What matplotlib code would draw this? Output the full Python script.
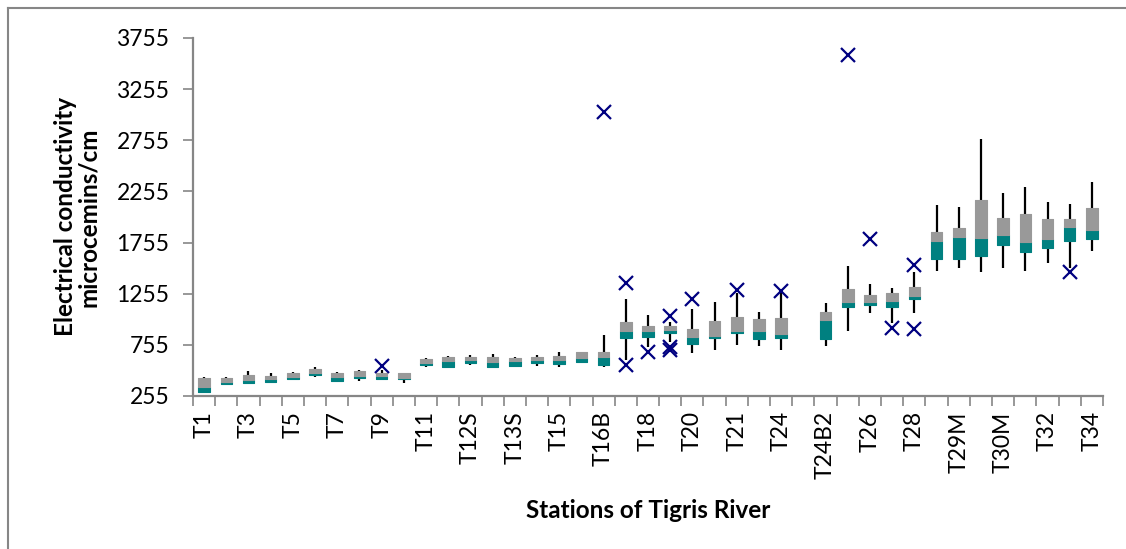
import matplotlib
matplotlib.use('Agg')
import matplotlib.pyplot as plt
from matplotlib.lines import Line2D
import numpy as np

plt.rcParams['font.family'] = ['Lato', 'DejaVu Sans']

# Sampling stations along the Tigris (every other one is labelled on the axis)
stations = ['T1', 'T2', 'T3', 'T4', 'T5', 'T6', 'T7', 'T8', 'T9', 'T10',
            'T11', 'T12', 'T12S', 'T13', 'T13S', 'T14', 'T15', 'T16', 'T16B', 'T17',
            'T18', 'T19', 'T20', 'T20S', 'T21', 'T22', 'T24', 'T24B1', 'T24B2', 'T25',
            'T26', 'T27', 'T28', 'T29', 'T29M', 'T30', 'T30M', 'T31', 'T32', 'T33',
            'T34']

# Box statistics, EC in microsiemens/cm (nan = no samples)
ec_min = [288, 366, 379, 379, 412, 438, 395, 405, 412, 385,
          535, 526, 558, 526, 535, 552, 542, 581, 535, 607,
          730, 786, 679, 705, 754, 747, 705, np.nan, 744, 891,
          1063, 972, 1063, 1481, 1504, 1471, 1504, 1481, 1553, 1504,
          1676]
ec_q1 = [297, 372, 385, 389, 421, 460, 405, 428, 418, 420,
         558, 542, 575, 542, 552, 581, 568, 591, 558, 819,
         829, 868, 764, 819, 868, 809, 825, np.nan, 809, 1122,
         1145, 1129, 1200, 1592, 1592, 1627, 1732, 1660, 1699, 1774,
         1787]
ec_med = [346, 389, 412, 418, 444, 483, 438, 454, 454, 430,
          575, 601, 607, 591, 597, 607, 607, 623, 633, 894,
          894, 900, 829, 842, 894, 891, 861, np.nan, 998, 1171,
          1177, 1187, 1233, 1774, 1807, 1803, 1830, 1764, 1790, 1911,
          1878]
ec_q3 = [428, 434, 460, 451, 483, 516, 477, 500, 483, 477,
         614, 633, 640, 633, 623, 640, 646, 682, 689, 982,
         940, 940, 910, 992, 1031, 1008, 1021, np.nan, 1080, 1298,
         1243, 1266, 1318, 1862, 1895, 2172, 1993, 2032, 1983, 1989,
         2097]
ec_max = [438, 441, 503, 477, 493, 535, 490, 509, 509, 483,
          630, 646, 656, 666, 640, 656, 689, 690, 852, 1200,
          1047, 982, 1103, 1178, 1259, 1080, 1275, np.nan, 1161, 1526,
          1347, 1308, 1464, 2123, 2100, 2768, 2237, 2296, 2149, 2133,
          2345]

# Outliers: station index and value
out_idx = [8, 18, 19, 19, 20, 21, 21, 21, 22, 24, 26, 29, 30, 31, 32, 32, 39]
out_val = [545, 3030, 1360, 555, 690, 1037, 737, 705, 1200, 1292, 1285,
           3590, 1787, 917, 1536, 910, 1471]

x = np.arange(len(stations))
q1 = np.array(ec_q1, dtype=float)
med = np.array(ec_med, dtype=float)
q3 = np.array(ec_q3, dtype=float)

fig = plt.figure(figsize=(11.26, 5.49), dpi=100)
ax = fig.add_axes([193 / 1126, 153 / 549, 910 / 1126, 358 / 549])

# whiskers behind the boxes
ax.vlines(x, ec_min, ec_max, color='black', linewidth=1.6, zorder=1)

# lower box (Q1 -> median) and upper box (median -> Q3)
w = 0.52
ax.bar(x, med - q1, bottom=q1, width=w, color='#008080', edgecolor='#008080',
       linewidth=0.8, joinstyle='round', zorder=2)
ax.bar(x, q3 - med, bottom=med, width=w, color='#999999', edgecolor='#999999',
       linewidth=0.8, joinstyle='round', zorder=2)

ax.plot(out_idx, out_val, linestyle='none', marker='x', color='#000080',
        markersize=10, markeredgewidth=1.6, zorder=3)

ax.set_xlim(-0.5, len(stations) - 0.5)
ax.set_ylim(255, 3755)
ax.set_yticks(np.arange(255, 3756, 500))

# category labels at centres, tick marks at the boundaries
ax.set_xticks(x[::2])
ax.set_xticklabels(stations[::2], rotation=90)
ax.set_xticks(np.arange(-0.5, len(stations)), minor=True)
ax.tick_params(axis='x', which='major', length=0, pad=11, labelsize=16.5)
ax.tick_params(axis='x', which='minor', length=7, width=1.2, color='#868686')
ax.tick_params(axis='y', length=7, width=1.2, color='#868686', labelsize=16.5, pad=10)

for side in ['top', 'right']:
    ax.spines[side].set_visible(False)
for side in ['left', 'bottom']:
    ax.spines[side].set_color('#868686')
    ax.spines[side].set_linewidth(1.6)

ax.set_xlabel('Stations of Tigris River', fontsize=17.5, fontweight='bold', labelpad=14)
ax.set_ylabel('Electrical conductivity\nmicrocemins/cm', fontsize=17.5,
              fontweight='bold', labelpad=12, linespacing=1.0)

# chart area frame
fig.add_artist(Line2D([8 / 1126, 1], [1 - 8 / 549, 1 - 8 / 549],
                      transform=fig.transFigure, color='#868686', linewidth=1.5))
fig.add_artist(Line2D([8 / 1126, 8 / 1126], [0, 1 - 8 / 549],
                      transform=fig.transFigure, color='#868686', linewidth=1.5))

plt.savefig('out.png', dpi=100)
